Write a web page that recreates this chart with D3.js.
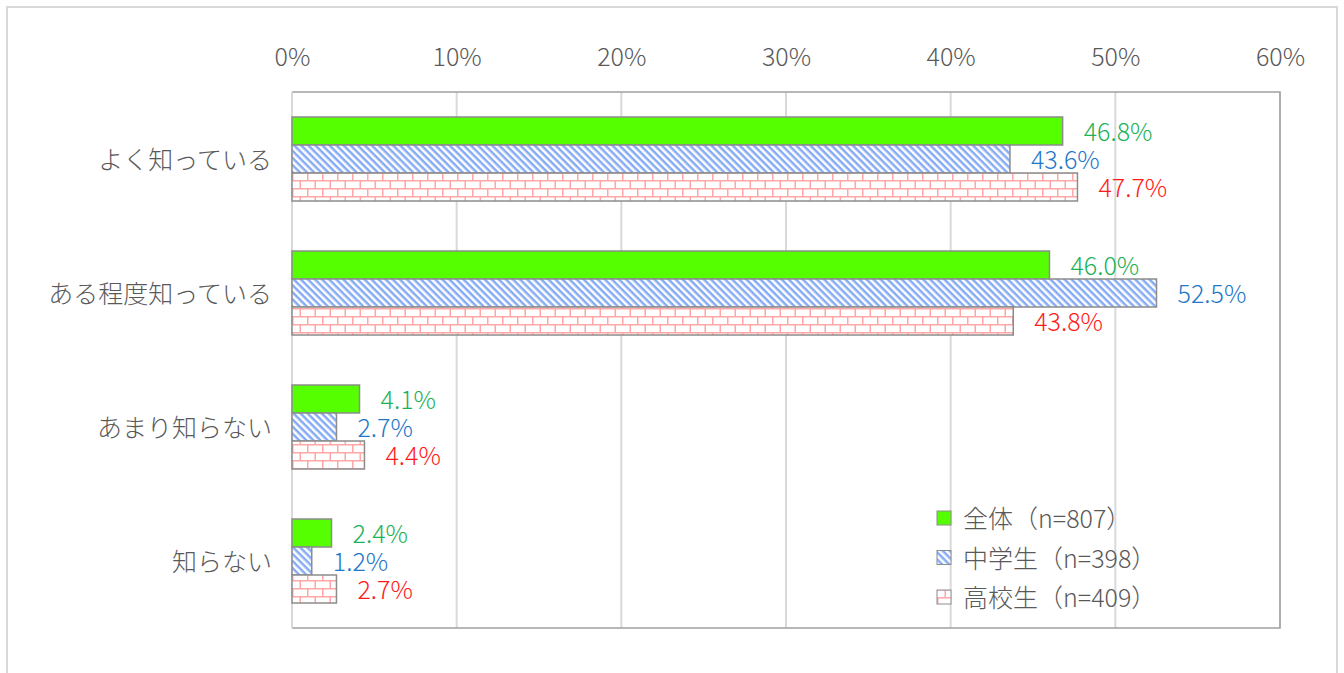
<!DOCTYPE html>
<html>
<head>
<meta charset="utf-8">
<script src="https://cdn.jsdelivr.net/npm/d3@7"></script>
<style>
  body { margin: 0; background: #fff; }
  text { font-family: "Noto Sans CJK JP", "Noto Sans", sans-serif; font-weight: 300; }
</style>
</head>
<body>
<div class="canvas"></div>
<script>
const categories = ['よく知っている', 'ある程度知っている', 'あまり知らない', '知らない'];
const seriesNames = ['全体（n=807）', '中学生（n=398）', '高校生（n=409）'];
const zentai = [46.8, 46.0, 4.1, 2.4];
const chugaku = [43.6, 52.5, 2.7, 1.2];
const koko = [47.7, 43.8, 4.4, 2.7];
const ticks = [0, 10, 20, 30, 40, 50, 60];

const labelColors = ['#1db158', '#1f77c9', '#ff1a1a'];

const svg = d3.select('.canvas')
    .append('svg')
        .attr('width', 1344)
        .attr('height', 673);

// patterns
const defs = svg.append('defs');

const stripe = defs.append('pattern')
    .attr('id', 'stripe')
    .attr('patternUnits', 'userSpaceOnUse')
    .attr('width', 5)
    .attr('height', 5)
    .attr('patternTransform', 'rotate(45)');
stripe.append('rect').attr('width', 5).attr('height', 5).attr('fill', '#fff');
stripe.append('rect').attr('width', 5).attr('height', 2.5).attr('fill', '#86abf5');

const brick = defs.append('pattern')
    .attr('id', 'brick')
    .attr('patternUnits', 'userSpaceOnUse')
    .attr('width', 15)
    .attr('height', 16);
brick.append('rect').attr('width', 15).attr('height', 16).attr('fill', '#fff');
brick.append('path')
    .attr('d', 'M0,0.75H15 M0,8.75H15 M0.75,0V8 M8.25,8V16')
    .attr('stroke', '#ffa6a6')
    .attr('stroke-width', 1.5)
    .attr('fill', 'none');

const fills = ['#55ff00', 'url(#stripe)', 'url(#brick)'];

// outer frame
svg.append('rect')
    .attr('x', 7).attr('y', 7)
    .attr('width', 1330).attr('height', 680)
    .attr('fill', 'none')
    .attr('stroke', '#d9d9d9')
    .attr('stroke-width', 2);

const margin = {top: 92, left: 292};
const graphWidth = 1280 - 292;
const graphHeight = 628 - 92;

const graph = svg.append('g')
    .attr('transform', `translate(${margin.left},${margin.top})`);

const x = d3.scaleLinear()
    .domain([0, 60])
    .range([0, graphWidth]);

const y = d3.scaleBand()
    .domain(categories)
    .range([0, graphHeight]);

const inner = d3.scaleBand()
    .domain(d3.range(3))
    .range([y.bandwidth() / 2 - 42, y.bandwidth() / 2 + 42]);

// gridlines
graph.selectAll('line.grid')
    .data(ticks)
    .enter()
    .append('line')
        .attr('class', 'grid')
        .attr('x1', d => x(d))
        .attr('x2', d => x(d))
        .attr('y1', 0)
        .attr('y2', graphHeight)
        .attr('stroke', '#d9d9d9')
        .attr('stroke-width', 2);

// plot border (right, top, bottom)
graph.append('path')
    .attr('d', `M0,0H${graphWidth}V${graphHeight}H0`)
    .attr('fill', 'none')
    .attr('stroke', '#a0a0a0')
    .attr('stroke-width', 1.5);
graph.append('line')
    .attr('x1', 0).attr('x2', 0).attr('y1', 0).attr('y2', graphHeight)
    .attr('stroke', '#d9d9d9').attr('stroke-width', 2);

// top axis
const xAxis = d3.axisTop(x)
    .tickValues(ticks)
    .tickFormat(d => d + '%')
    .tickSize(0)
    .tickPadding(26);
const xg = graph.append('g').call(xAxis);
xg.select('.domain').remove();
xg.selectAll('text')
    .attr('fill', '#595959')
    .style('font-size', '25px')
    .style('font-family', null);

// category labels
graph.selectAll('text.cat')
    .data(categories)
    .enter()
    .append('text')
        .attr('class', 'cat')
        .attr('x', -20)
        .attr('y', d => y(d) + y.bandwidth() / 2)
        .attr('dy', '0.4em')
        .attr('text-anchor', 'end')
        .attr('fill', '#595959')
        .style('font-size', '25px')
        .text(d => d);

const series = [zentai, chugaku, koko];

series.forEach((vals, s) => {
    const g = graph.append('g');
    g.selectAll('rect')
        .data(vals)
        .enter()
        .append('rect')
            .attr('x', 0)
            .attr('y', (d, i) => y(categories[i]) + inner(s))
            .attr('width', d => x(d))
            .attr('height', inner.bandwidth())
            .attr('fill', fills[s])
            .attr('stroke', '#8c8c8c')
            .attr('stroke-width', 1.5);
    g.selectAll('text')
        .data(vals)
        .enter()
        .append('text')
            .attr('x', d => x(d) + 21)
            .attr('y', (d, i) => y(categories[i]) + inner(s) + inner.bandwidth() / 2)
            .attr('dy', '0.4em')
            .attr('fill', labelColors[s])
            .style('font-size', '25px')
            .text(d => d.toFixed(1) + '%');
});

// legend
const legend = svg.append('g')
    .attr('transform', 'translate(937,518)');
seriesNames.forEach((name, i) => {
    const row = legend.append('g')
        .attr('transform', `translate(0,${i * 39.5})`);
    row.append('rect')
        .attr('x', 0).attr('y', -7)
        .attr('width', 14).attr('height', 14)
        .attr('fill', fills[i])
        .attr('stroke', '#8c8c8c')
        .attr('stroke-width', 1);
    row.append('text')
        .attr('x', 26)
        .attr('dy', '0.4em')
        .attr('fill', '#595959')
        .style('font-size', '25px')
        .text(name);
});
</script>
</body>
</html>
